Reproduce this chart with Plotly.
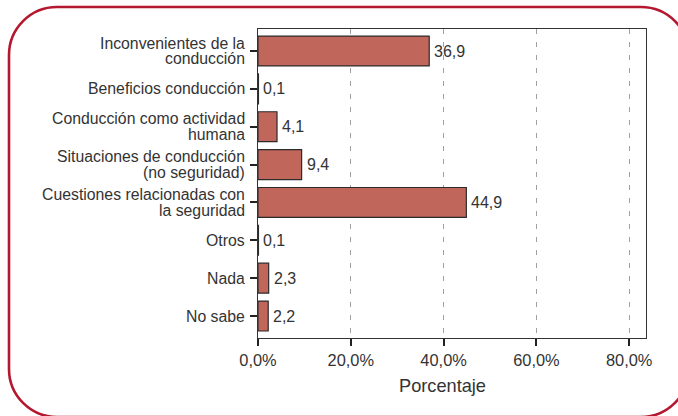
import plotly.graph_objects as go

# Survey categories (top to bottom) and their share of responses in percent
categories = [
    ["Inconvenientes de la", "conducción"],
    ["Beneficios conducción"],
    ["Conducción como actividad", "humana"],
    ["Situaciones de conducción", "(no seguridad)"],
    ["Cuestiones relacionadas con", "la seguridad"],
    ["Otros"],
    ["Nada"],
    ["No sabe"],
]
values = [36.9, 0.1, 4.1, 9.4, 44.9, 0.1, 2.3, 2.2]
x_ticks = [0, 20, 40, 60, 80]
x_tick_labels = ["0,0%", "20,0%", "40,0%", "60,0%", "80,0%"]
x_title = "Porcentaje"

W, H = 678, 416
L, R, T, B = 258, 32, 29, 78
PW, PH = W - L - R, H - T - B

FONT = "Liberation Sans, Arial, Helvetica, sans-serif"
TEXT = "#333333"
BAR = "#c0665a"
EDGE = "#2b2b2b"
FRAME = "#b3182f"

positions = list(range(len(values)))


def px(x):
    return (x - L) / PW


def py(y):
    return (H - B - y) / PH


fig = go.Figure()
fig.add_trace(go.Bar(
    x=values,
    y=positions,
    orientation="h",
    width=0.79,
    marker=dict(color=BAR, line=dict(color=EDGE, width=1.2)),
    hoverinfo="skip",
))

annotations = []
# value labels at the end of each bar
for pos, v in zip(positions, values):
    annotations.append(dict(
        x=v, y=pos, xref="x", yref="y",
        text=f"{v:.1f}".replace(".", ","),
        xanchor="left", yanchor="middle", xshift=3, showarrow=False,
        font=dict(family=FONT, size=16, color=TEXT),
    ))

# category labels, right aligned next to the y ticks
line_gap = 15.6
for pos, lines in zip(positions, categories):
    n = len(lines)
    for k, line in enumerate(lines):
        offset = (k - (n - 1) / 2) * line_gap
        annotations.append(dict(
            x=0, y=pos, xref="paper", yref="y",
            text=line, xanchor="right", yanchor="middle",
            xshift=-11, yshift=-offset, showarrow=False,
            font=dict(family=FONT, size=15.8, color=TEXT),
        ))

annotations.append(dict(
    x=px(442.5), y=py(386), xref="paper", yref="paper",
    text=x_title, xanchor="center", yanchor="middle", showarrow=False,
    font=dict(family=FONT, size=18.2, color=TEXT),
))

# rounded outer frame
x0, y0, x1, y1, r = 9, 7, 689, 417, 48
k = 0.5523 * r


def P(x, y):
    return f"{px(x):.5f},{py(y):.5f}"


frame_path = (
    f"M {P(x0, y0 + r)} "
    f"C {P(x0, y0 + r - k)} {P(x0 + r - k, y0)} {P(x0 + r, y0)} "
    f"L {P(x1 - r, y0)} "
    f"C {P(x1 - r + k, y0)} {P(x1, y0 + r - k)} {P(x1, y0 + r)} "
    f"L {P(x1, y1 - r)} "
    f"C {P(x1, y1 - r + k)} {P(x1 - r + k, y1)} {P(x1 - r, y1)} "
    f"L {P(x0 + r, y1)} "
    f"C {P(x0 + r - k, y1)} {P(x0, y1 - r + k)} {P(x0, y1 - r)} Z"
)

fig.update_layout(
    width=W, height=H,
    margin=dict(l=L, r=R, t=T, b=B, pad=0),
    paper_bgcolor="white", plot_bgcolor="white",
    showlegend=False,
    annotations=annotations,
    shapes=[dict(type="path", path=frame_path, xref="paper", yref="paper",
                 line=dict(color=FRAME, width=2.6), layer="below")],
    font=dict(family=FONT, color=TEXT),
)

fig.update_xaxes(
    range=[0, PW / 4.64],
    tickvals=x_ticks, ticktext=x_tick_labels,
    ticks="outside", ticklen=7, tickwidth=1.5, tickcolor="#222222",
    tickfont=dict(family=FONT, size=16.4, color=TEXT),
    showline=True, linecolor="#333333", linewidth=1.4, mirror=True,
    showgrid=True, gridcolor="#a0a0a0", gridwidth=1, griddash="5px,8px",
    zeroline=False, fixedrange=True,
)
fig.update_yaxes(
    range=[7.58, -0.581],
    tickvals=positions, ticktext=[""] * len(positions),
    ticks="outside", ticklen=7, tickwidth=1.5, tickcolor="#222222",
    showline=True, linecolor="#333333", linewidth=1.4, mirror=True,
    showgrid=False, zeroline=False, fixedrange=True,
)

fig.write_html("out.html")
